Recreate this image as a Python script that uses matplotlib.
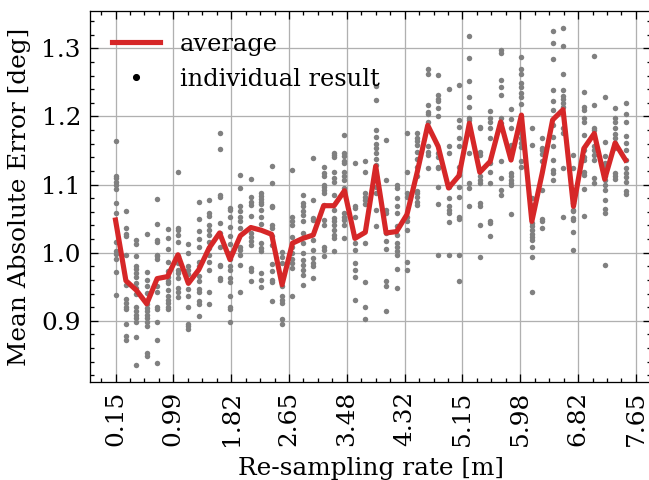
import numpy as np
import matplotlib.pyplot as plt
from matplotlib.lines import Line2D

# re-sampling rates [m]
rates = np.round(np.arange(1, 51) * 0.15, 2)

# average mean absolute error per rate
average = [
    1.048, 0.959, 0.945, 0.925, 0.962, 0.965, 0.997, 0.955, 0.975, 1.007,
    1.029, 0.990, 1.025, 1.037, 1.033, 1.027, 0.953, 1.014, 1.021, 1.026,
    1.069, 1.069, 1.091, 1.021, 1.030, 1.127, 1.029, 1.031, 1.056, 1.119,
    1.187, 1.156, 1.095, 1.113, 1.190, 1.118, 1.134, 1.192, 1.136, 1.202,
    1.046, 1.117, 1.195, 1.210, 1.068, 1.153, 1.175, 1.108, 1.161, 1.136,
]

# individual results, one list per rate
individual = [
    [1.164, 1.113, 1.109, 1.104, 1.100, 1.093, 1.073, 1.058, 1.015, 1.002, 0.998, 0.991, 0.971, 0.938],
    [1.061, 1.036, 1.027, 1.025, 0.997, 0.953, 0.932, 0.926, 0.921, 0.918, 0.895, 0.878, 0.872],
    [1.019, 1.013, 0.995, 0.981, 0.976, 0.970, 0.965, 0.956, 0.948, 0.939, 0.921, 0.914, 0.909, 0.904, 0.899, 0.877, 0.835],
    [1.027, 0.971, 0.960, 0.951, 0.941, 0.924, 0.919, 0.914, 0.909, 0.904, 0.899, 0.893, 0.853, 0.849],
    [1.079, 1.042, 1.018, 1.015, 0.997, 0.995, 0.991, 0.951, 0.943, 0.921, 0.918, 0.899, 0.872, 0.838],
    [1.035, 1.021, 1.005, 0.986, 0.973, 0.965, 0.958, 0.956, 0.946, 0.936, 0.931, 0.926, 0.921, 0.917],
    [1.119, 1.036, 1.033, 1.026, 1.015, 0.995, 0.985, 0.975, 0.970, 0.963, 0.948, 0.943, 0.935],
    [1.013, 0.999, 0.981, 0.975, 0.969, 0.958, 0.947, 0.936, 0.920, 0.896, 0.892, 0.888],
    [1.074, 1.049, 1.032, 1.020, 1.009, 0.987, 0.981, 0.966, 0.958, 0.947, 0.942, 0.929, 0.925, 0.907],
    [1.077, 1.058, 1.054, 1.041, 1.033, 1.026, 1.015, 1.007, 0.997, 0.986, 0.975, 0.943, 0.925],
    [1.175, 1.152, 1.085, 1.082, 1.043, 1.029, 1.009, 0.982, 0.980, 0.963, 0.960],
    [1.065, 1.063, 1.052, 1.038, 1.025, 1.013, 0.999, 0.991, 0.981, 0.975, 0.963, 0.957, 0.937, 0.921, 0.918, 0.899],
    [1.114, 1.095, 1.069, 1.061, 1.053, 1.046, 1.036, 1.009, 1.004, 0.996, 0.982, 0.942],
    [1.108, 1.082, 1.075, 1.070, 1.054, 1.029, 1.023, 1.017, 1.012, 0.978, 0.973, 0.958],
    [1.087, 1.083, 1.079, 1.075, 1.072, 1.062, 1.053, 1.042, 1.014, 1.007, 1.002, 0.970, 0.960, 0.950],
    [1.127, 1.102, 1.069, 1.067, 1.041, 1.036, 1.024, 1.012, 0.983, 0.973, 0.960, 0.957, 0.929],
    [1.001, 0.993, 0.985, 0.951, 0.936, 0.931, 0.926, 0.902, 0.896],
    [1.122, 1.053, 1.047, 1.041, 1.023, 1.009, 1.000, 0.991, 0.985, 0.978, 0.937],
    [1.085, 1.073, 1.068, 1.061, 1.056, 1.046, 1.029, 1.014, 1.000, 0.990, 0.982, 0.975, 0.968, 0.952],
    [1.139, 1.078, 1.051, 1.048, 1.019, 1.004, 0.992, 0.985, 0.980, 0.963],
    [1.126, 1.117, 1.112, 1.100, 1.097, 1.092, 1.087, 1.070, 1.048, 1.041, 1.009, 1.004, 0.995],
    [1.147, 1.143, 1.140, 1.119, 1.109, 1.104, 1.085, 1.063, 1.051, 1.047, 1.041, 1.034, 1.026, 1.021, 1.002],
    [1.173, 1.146, 1.142, 1.135, 1.131, 1.119, 1.113, 1.107, 1.095, 1.058, 1.053, 1.048, 1.041, 1.021],
    [1.131, 1.068, 1.065, 1.053, 1.014, 1.004, 0.985, 0.975, 0.965, 0.931],
    [1.134, 1.119, 1.087, 1.082, 1.078, 1.072, 1.014, 0.957, 0.920, 0.903],
    [1.244, 1.224, 1.180, 1.170, 1.160, 1.153, 1.146, 1.137, 1.129, 1.112, 1.097, 1.087, 1.063, 1.039],
    [1.166, 1.107, 1.063, 1.058, 1.029, 1.017, 1.005, 0.958, 0.951, 0.914],
    [1.100, 1.095, 1.080, 1.068, 1.058, 1.039, 1.026, 1.014, 1.009, 1.002, 0.996, 0.976, 0.948],
    [1.175, 1.119, 1.087, 1.082, 1.053, 1.046, 1.034, 0.987, 0.975],
    [1.175, 1.169, 1.164, 1.158, 1.148, 1.137, 1.126, 1.112, 1.090, 1.087, 1.082, 1.075, 1.070],
    [1.269, 1.263, 1.217, 1.207, 1.204, 1.192, 1.156, 1.148, 1.143, 1.125],
    [1.261, 1.231, 1.226, 1.222, 1.212, 1.200, 1.146, 1.141, 1.126, 1.124, 1.096, 1.072, 0.996],
    [1.240, 1.156, 1.146, 1.097, 1.080, 1.068, 1.063, 1.058, 1.045, 0.996],
    [1.246, 1.195, 1.185, 1.168, 1.156, 1.126, 1.114, 1.097, 1.082, 1.053, 1.049, 0.997, 0.959],
    [1.318, 1.286, 1.252, 1.229, 1.214, 1.197, 1.195, 1.146, 1.102, 1.095, 1.068],
    [1.185, 1.183, 1.148, 1.143, 1.112, 1.107, 1.102, 1.073, 1.068, 1.041, 0.994],
    [1.208, 1.197, 1.192, 1.183, 1.168, 1.131, 1.119, 1.102, 1.046, 1.043, 1.025],
    [1.297, 1.293, 1.253, 1.243, 1.231, 1.197, 1.190, 1.135, 1.109, 1.092, 1.085],
    [1.211, 1.196, 1.183, 1.158, 1.153, 1.117, 1.112, 1.107, 1.103, 1.100, 1.057],
    [1.287, 1.270, 1.263, 1.249, 1.243, 1.235, 1.228, 1.218, 1.200, 1.187, 1.175, 1.168, 1.161, 1.155, 1.134, 1.126],
    [1.183, 1.158, 1.080, 1.070, 1.043, 1.039, 1.034, 1.028, 1.023, 1.019, 1.009, 0.994, 0.943],
    [1.168, 1.153, 1.151, 1.145, 1.134, 1.092, 1.049, 1.047, 1.036],
    [1.326, 1.308, 1.285, 1.239, 1.222, 1.209, 1.187, 1.170, 1.156, 1.136, 1.122, 1.117, 1.107],
    [1.330, 1.304, 1.263, 1.239, 1.230, 1.225, 1.220, 1.214, 1.183, 1.176, 1.124, 1.053],
    [1.143, 1.125, 1.073, 1.063, 1.061, 1.051, 1.048, 1.030, 1.004],
    [1.236, 1.214, 1.209, 1.197, 1.192, 1.173, 1.151, 1.141, 1.136, 1.118, 1.114, 1.093, 1.054],
    [1.289, 1.217, 1.183, 1.180, 1.156, 1.151, 1.143, 1.136, 1.109, 1.102],
    [1.228, 1.162, 1.142, 1.131, 1.126, 1.119, 1.112, 1.106, 1.100, 1.092, 1.078, 1.064, 1.059, 0.982],
    [1.212, 1.197, 1.192, 1.183, 1.174, 1.169, 1.161, 1.153, 1.117, 1.112, 1.108],
    [1.219, 1.204, 1.192, 1.171, 1.161, 1.151, 1.136, 1.124, 1.117, 1.111, 1.104, 1.090, 1.086],
]

tick_pos = np.linspace(0.15, 7.65, 10)
tick_labels = ["0.15", "0.99", "1.82", "2.65", "3.48", "4.32", "5.15", "5.98", "6.82", "7.65"]

plt.rcParams.update({
    "font.family": "DejaVu Serif",
    "font.size": 9.6,
    "mathtext.fontset": "dejavuserif",
    "axes.linewidth": 0.5,
    "xtick.direction": "in",
    "ytick.direction": "in",
    "xtick.top": True,
    "ytick.right": True,
    "xtick.minor.visible": True,
    "ytick.minor.visible": True,
    "xtick.major.size": 3,
    "ytick.major.size": 3,
    "xtick.minor.size": 1.5,
    "ytick.minor.size": 1.5,
    "xtick.major.width": 0.5,
    "ytick.major.width": 0.5,
    "xtick.minor.width": 0.5,
    "ytick.minor.width": 0.5,
})

fig = plt.figure(figsize=(3.5, 480 / 185.43), dpi=185.43)
ax = fig.add_axes([90 / 649, 1 - 382 / 480, 561 / 649, 371 / 480])

for r, vals in zip(rates, individual):
    ax.scatter(np.full(len(vals), r), vals, s=4.5, color="#808080", linewidths=0, zorder=2)
ax.plot(rates, average, color="#d62728", lw=2.0, zorder=3)

ax.set_xticks(tick_pos)
ax.set_xticklabels(tick_labels, rotation=90)
ax.set_xlabel("Re-sampling rate [m]")
ax.set_ylabel("Mean Absolute Error [deg]")
ax.grid(True, color="#b0b0b0", lw=0.5)
ax.set_axisbelow(True)

handles = [
    Line2D([], [], color="#d62728", lw=2.0),
    Line2D([], [], color="k", marker=".", ls="none", markersize=3.5),
]
ax.legend(handles, ["average", "individual result"], loc="upper left",
          frameon=False, handlelength=2.0, fontsize=9.4)

fig.savefig("out.png", dpi=185.43)
